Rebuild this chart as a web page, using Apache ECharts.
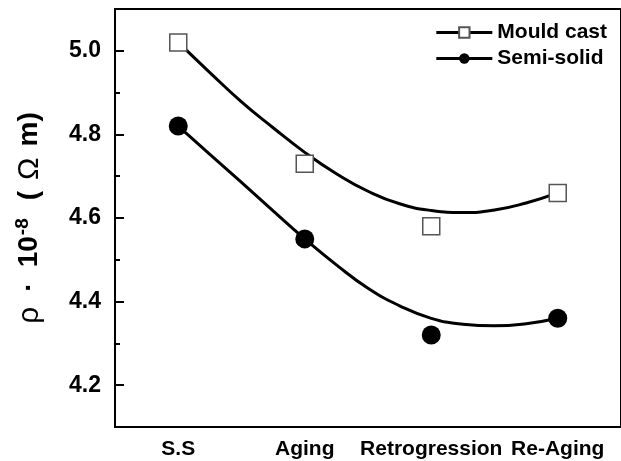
<!DOCTYPE html>
<html>
<head>
<meta charset="utf-8">
<script src="https://cdn.jsdelivr.net/npm/echarts@6/dist/echarts.min.js"></script>
<style>
html, body { margin: 0; padding: 0; background: #fff; }
#main { width: 621px; height: 461px; }
</style>
</head>
<body>
<div id="main"></div>
<script>
var stages = ['S.S', 'Aging', 'Retrogression', 'Re-Aging'];
var mouldCast = [5.02, 4.73, 4.58, 4.66];
var semiSolid = [4.82, 4.55, 4.32, 4.36];
// fitted curves at quarter-stage steps
var fitX = [0, 0.25, 0.5, 0.75, 1, 1.25, 1.5, 1.75, 2, 2.25, 2.5, 2.75, 3];
var mouldFit = [5.02, 4.948, 4.878, 4.816, 4.757, 4.706, 4.664, 4.634, 4.618, 4.613, 4.619, 4.636, 4.66];
var semiFit = [4.82, 4.752, 4.685, 4.617, 4.55, 4.488, 4.432, 4.39, 4.36, 4.346, 4.342, 4.347, 4.36];

var font = 'Liberation Sans, Arial, sans-serif';

function pairs(xs, ys) {
  return xs.map(function (x, i) { return [x, ys[i]]; });
}

var chartDom = document.getElementById('main');
var myChart = echarts.init(chartDom);
var option;

// grid 0: the plot (4.1 .. 5.1); grid 1: same scale, shrunk to 4.2 .. 5.0, only for the long ticks
var plotTop = 9, plotBottom = 34, plotH = 461 - plotTop - plotBottom;
var pad = plotH * 0.1;

option = {
  animation: false,
  grid: [
    {
      left: 115,
      top: plotTop,
      right: -3,
      bottom: plotBottom,
      show: true,
      borderColor: '#000',
      borderWidth: 2
    },
    {
      left: 115,
      top: plotTop + pad,
      right: -3,
      bottom: plotBottom + pad
    }
  ],
  legend: {
    orient: 'vertical',
    right: 9,
    top: 17,
    itemWidth: 56,
    itemHeight: 13,
    itemGap: 5,
    data: ['Mould cast', 'Semi-solid'],
    lineStyle: { color: '#000', width: 3, opacity: 1 },
    textStyle: { color: '#000', fontSize: 21, fontWeight: 'bold', fontFamily: font }
  },
  xAxis: [
    {
      type: 'category',
      data: stages,
      boundaryGap: true,
      axisLine: { lineStyle: { color: '#000', width: 2 } },
      axisTick: { inside: true, alignWithLabel: true, length: 10, lineStyle: { color: '#000', width: 2 } },
      axisLabel: { interval: 0, color: '#000', fontSize: 21, fontWeight: 'bold', fontFamily: font, margin: 12 },
      splitLine: { show: false }
    },
    {
      type: 'value',
      min: -0.5,
      max: 3.5,
      show: false
    },
    {
      type: 'value',
      gridIndex: 1,
      min: 0,
      max: 1,
      show: false
    }
  ],
  yAxis: [
    {
      type: 'value',
      min: 4.1,
      max: 5.1,
      interval: 0.1,
      axisLine: { show: true, onZero: false, lineStyle: { color: '#000', width: 2 } },
      axisTick: { show: true, inside: true, length: 5, lineStyle: { color: '#000', width: 2 } },
      axisLabel: {
        formatter: function (v) {
          return Math.round(v * 10) % 2 === 0 ? v.toFixed(1) : '';
        },
        color: '#000', fontSize: 23, fontWeight: 'bold', fontFamily: font, margin: 14
      },
      splitLine: { show: false },
      name: '{r|ρ}{d|·}{b|10}{s|-8}{p|(}{o|Ω}{b|m)}',
      nameLocation: 'middle',
      nameRotate: 90,
      nameGap: 69,
      nameTextStyle: {
        rich: {
          r: { fontSize: 30, fontFamily: font, color: '#000' },
          d: { fontSize: 28, fontWeight: 'bold', fontFamily: font, color: '#000', padding: [0, 15, 0, 15] },
          b: { fontSize: 28, fontWeight: 'bold', fontFamily: font, color: '#000' },
          s: { fontSize: 19, fontWeight: 'bold', fontFamily: font, color: '#000', padding: [0, 0, 14, 1] },
          p: { fontSize: 28, fontWeight: 'bold', fontFamily: font, color: '#000', padding: [0, 0, 0, 18] },
          o: { fontSize: 30, fontFamily: font, color: '#000', padding: [0, 11, 0, 11] }
        }
      }
    },
    {
      type: 'value',
      gridIndex: 1,
      min: 4.2,
      max: 5.0,
      interval: 0.2,
      axisLine: { show: false, onZero: false },
      axisTick: { show: true, inside: true, length: 9, lineStyle: { color: '#000', width: 2 } },
      axisLabel: { show: false },
      splitLine: { show: false }
    }
  ],
  series: [
    {
      name: 'Mould cast fit',
      type: 'line',
      xAxisIndex: 1,
      data: pairs(fitX, mouldFit),
      smooth: true,
      symbol: 'none',
      silent: true,
      lineStyle: { color: '#000', width: 3 },
      z: 2
    },
    {
      name: 'Semi-solid fit',
      type: 'line',
      xAxisIndex: 1,
      data: pairs(fitX, semiFit),
      smooth: true,
      symbol: 'none',
      silent: true,
      lineStyle: { color: '#000', width: 3 },
      z: 2
    },
    {
      name: 'Mould cast',
      type: 'line',
      data: mouldCast,
      symbol: 'rect',
      symbolSize: 17,
      itemStyle: { color: '#fff', borderColor: '#555', borderWidth: 1.5 },
      lineStyle: { opacity: 0 },
      z: 3
    },
    {
      name: 'Semi-solid',
      type: 'line',
      data: semiSolid,
      symbol: 'circle',
      symbolSize: 19,
      itemStyle: { color: '#000' },
      lineStyle: { opacity: 0 },
      z: 3
    }
  ]
};
myChart.setOption(option);
</script>
</body>
</html>
